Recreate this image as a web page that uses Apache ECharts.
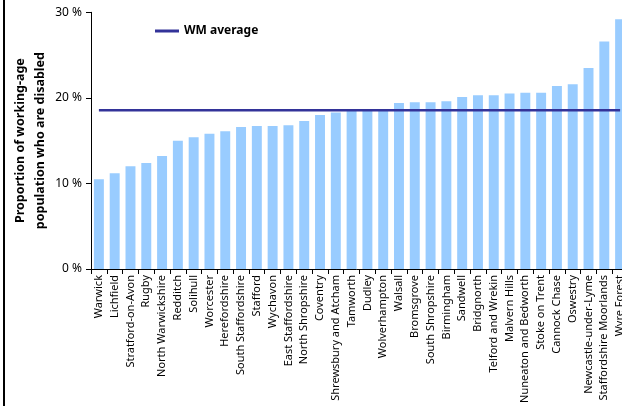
<!DOCTYPE html>
<html>
<head>
<meta charset="utf-8">
<script src="https://cdn.jsdelivr.net/npm/echarts@6/dist/echarts.min.js"></script>
<style>
html,body{margin:0;padding:0;background:#fff;}
#chart{width:622px;height:406px;}
</style>
</head>
<body>
<div id="chart"></div>
<script>
const categories = ["Warwick","Lichfield","Stratford-on-Avon","Rugby","North Warwickshire","Redditch","Solihull","Worcester","Herefordshire","South Staffordshire","Stafford","Wychavon","East Staffordshire","North Shropshire","Coventry","Shrewsbury and Atcham","Tamworth","Dudley","Wolverhampton","Walsall","Bromsgrove","South Shropshire","Birmingham","Sandwell","Bridgnorth","Telford and Wrekin","Malvern Hills","Nuneaton and Bedworth","Stoke on Trent","Cannock Chase","Oswestry","Newcastle-under-Lyme","Staffordshire Moorlands","Wyre Forest"];
const disabledPct = [10.5,11.2,12.0,12.4,13.2,15.0,15.4,15.8,16.1,16.6,16.7,16.7,16.8,17.3,18.0,18.3,18.5,18.5,18.6,19.4,19.5,19.5,19.6,20.1,20.3,20.3,20.5,20.6,20.6,21.4,21.6,23.5,26.6,29.2];
const wmAverage = 18.55;
const yTicks = [0,10,20,30];

const chart = echarts.init(document.getElementById('chart'), null, {renderer:'canvas'});
chart.setOption({
  animation:false,
  backgroundColor:'#ffffff',
  textStyle:{fontFamily:'Noto Sans'},
  graphic:[{type:'rect',shape:{x:3,y:0,width:2,height:406},style:{fill:'#000'},silent:true}],
  legend:{
    left:150, top:20,
    itemWidth:24, itemHeight:3,
    data:[{name:'WM average', icon:'rect'}],
    textStyle:{fontFamily:'Noto Sans', fontWeight:'bold', fontSize:12, color:'#000'}
  },
  grid:{left:91, top:12.3, bottom:137, width:537, containLabel:false, outerBoundsMode:'none'},
  xAxis:{
    type:'category', data:categories,
    axisLine:{lineStyle:{color:'#000', width:1}},
    axisTick:{show:true, length:5, lineStyle:{color:'#000'}},
    axisLabel:{rotate:90, interval:0, fontSize:11, color:'#000', margin:6, fontFamily:'Noto Sans'}
  },
  yAxis:{
    type:'value', min:0, max:30, interval:10,
    name:'Proportion of working-age\npopulation who are disabled',
    nameLocation:'middle', nameRotate:90, nameGap:41, nameMoveOverlap:false,
    nameTextStyle:{fontFamily:'Noto Sans', fontWeight:'bold', fontSize:12.5, color:'#000', lineHeight:20},
    axisLine:{show:true, lineStyle:{color:'#000'}},
    axisTick:{show:true, length:5, lineStyle:{color:'#000'}},
    splitLine:{show:false},
    axisLabel:{color:'#000', fontSize:12, margin:9, formatter:v => yTicks.includes(v) ? v + ' %' : ''}
  },
  series:[
    {type:'bar', name:'Proportion', data:disabledPct, barCategoryGap:'37%', itemStyle:{color:'#99CCFF'}, z:2},
    {type:'line', name:'WM average', data:[[0, wmAverage],[categories.length-1, wmAverage]],
     symbol:'none', lineStyle:{color:'#333399', width:2.5}, itemStyle:{color:'#333399'}, z:3}
  ]
});
</script>
</body>
</html>
